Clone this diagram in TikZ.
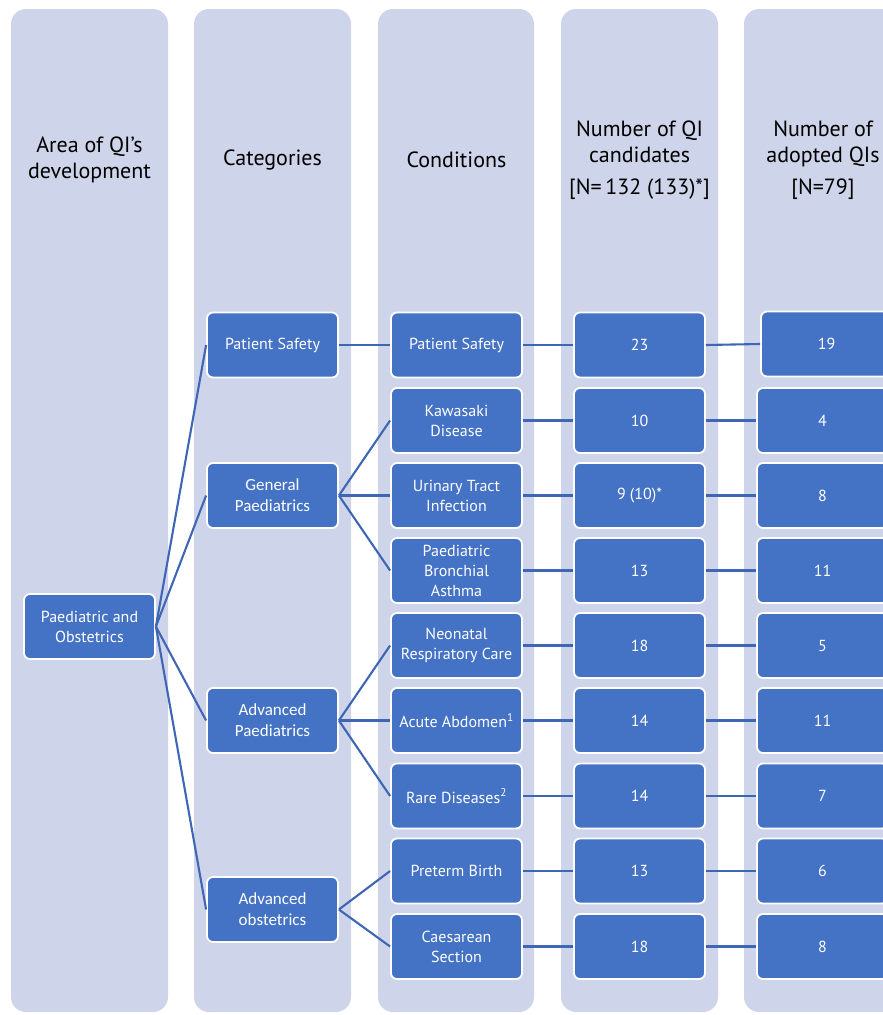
\documentclass[tikz,border=0pt]{standalone}
\usepackage{fontspec}
\setmainfont{PT Sans}
\newfontfamily\calfont{Carlito}
\definecolor{colbg}{HTML}{CED4E9}
\definecolor{boxblue}{HTML}{4472C4}
\definecolor{linkblue}{HTML}{3F66B5}
\tikzset{
  column/.style={fill=colbg, rounded corners=15pt},
  qbox/.style={draw=white, line width=1.8pt, fill=boxblue, rounded corners=6pt,
    minimum width=131pt, minimum height=65pt, text=white, align=center,
    font=\fontsize{16}{20}\selectfont, inner sep=2pt},
  cbox/.style={qbox, font=\calfont\fontsize{17}{21}\selectfont},
  link/.style={draw=linkblue, line width=2.1pt},
  head/.style={align=center, font=\fontsize{22}{26}\selectfont, text=black}
}
\begin{document}
\begin{tikzpicture}[x=1pt,y=-1pt]
\useasboundingbox (0,0) rectangle (883,1015);
\clip (0,0) rectangle (883,1015);
% columns
\fill[column] (11,9) rectangle (168,1012);
\fill[column] (194,9) rectangle (351,1012);
\fill[column] (378,9) rectangle (534,1012);
\fill[column] (561,9) rectangle (718,1012);
\fill[column] (744,9) rectangle (910,1012);
% headers
\node[head] (h1) at (89.5,160) {Area of QI’s\\development};
\node[head] (h2) at (272.5,160) {Categories};
\node[head] (h3) at (456.5,160) {Conditions};
\node[head] (h4) at (639.5,160) {Number of QI\\candidates\\[6pt]{[}N=\,132 (133)*{]}};
\node[head] (h5) at (823,160) {Number of\\adopted QIs\\[6pt]{[}N=79{]}};
% column 1
\node[qbox] (po) at (89.5,626.5) {Paediatric and\\Obstetrics};
% column 2
\node[qbox] (ps2) at (272.5,345) {Patient Safety};
\node[cbox] (gp) at (272.5,495.5) {General\\Paediatrics};
\node[cbox] (ap) at (272.5,720.5) {Advanced\\Paediatrics};
\node[cbox] (ao) at (272.5,909.5) {Advanced\\obstetrics};
% column 3
\node[qbox] (c1) at (456.5,345) {Patient Safety};
\node[qbox] (c2) at (456.5,420.5) {Kawasaki\\Disease};
\node[qbox] (c3) at (456.5,495.5) {Urinary Tract\\Infection};
\node[qbox] (c4) at (456.5,570.5) {Paediatric\\Bronchial\\Asthma};
\node[qbox] (c5) at (456.5,645.5) {Neonatal\\Respiratory Care};
\node[qbox] (c6) at (456.5,720.5) {Acute Abdomen\textsuperscript{1}};
\node[qbox] (c7) at (456.5,796) {Rare Diseases\textsuperscript{2}};
\node[qbox] (c8) at (456.5,871) {Preterm Birth};
\node[qbox] (c9) at (456.5,946.5) {Caesarean\\Section};
% column 4
\node[qbox] (n1) at (639.5,345) {23};
\node[qbox] (n2) at (639.5,420.5) {10};
\node[qbox] (n3) at (639.5,495.5) {9 (10)*};
\node[qbox] (n4) at (639.5,570.5) {13};
\node[qbox] (n5) at (639.5,645.5) {18};
\node[qbox] (n6) at (639.5,720.5) {14};
\node[qbox] (n7) at (639.5,796) {14};
\node[qbox] (n8) at (639.5,871) {13};
\node[qbox] (n9) at (639.5,946.5) {18};
% column 5
\node[qbox] (a1) at (826.5,344) {19};
\node[qbox] (a2) at (822.5,420.5) {4};
\node[qbox] (a3) at (822.5,495.5) {8};
\node[qbox] (a4) at (822.5,570.5) {11};
\node[qbox] (a5) at (822.5,645.5) {5};
\node[qbox] (a6) at (822.5,720.5) {11};
\node[qbox] (a7) at (822.5,796) {7};
\node[qbox] (a8) at (822.5,871) {6};
\node[qbox] (a9) at (822.5,946.5) {8};
% connectors col1 -> col2
\draw[link] (po.east) -- (ps2.west);
\draw[link] (po.east) -- (gp.west);
\draw[link] (po.east) -- (ap.west);
\draw[link] (po.east) -- (ao.west);
% col2 -> col3
\draw[link] (ps2.east) -- (c1.west);
\draw[link] (gp.east) -- (c2.west);
\draw[link] (gp.east) -- (c3.west);
\draw[link] (gp.east) -- (c4.west);
\draw[link] (ap.east) -- (c5.west);
\draw[link] (ap.east) -- (c6.west);
\draw[link] (ap.east) -- (c7.west);
\draw[link] (ao.east) -- (c8.west);
\draw[link] (ao.east) -- (c9.west);
% col3 -> col4 -> col5
\foreach \i in {1,...,9} {
  \draw[link] (c\i.east) -- (n\i.west);
  \draw[link] (n\i.east) -- (a\i.west);
}
\end{tikzpicture}
\end{document}
